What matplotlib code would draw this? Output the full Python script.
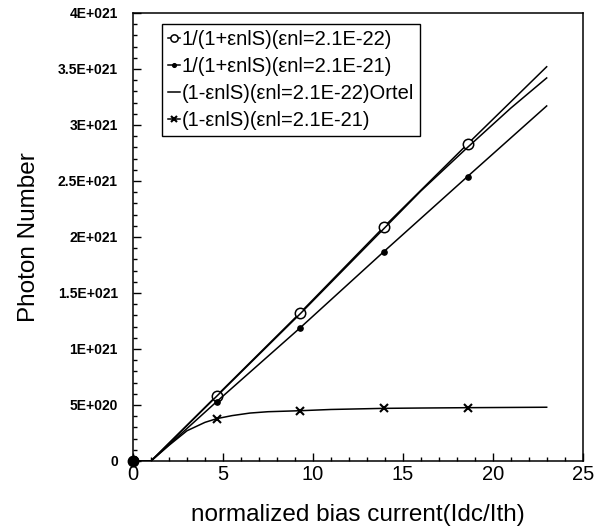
import matplotlib
matplotlib.use('Agg')
import matplotlib.pyplot as plt
from matplotlib.ticker import MultipleLocator, FixedLocator

plt.rcParams['font.family'] = ['Liberation Sans', 'DejaVu Sans']

# values (photon number in units of 1E+021)
x_lin = [0, 1, 4.65, 9.3, 13.95, 18.6, 23]
s1 = [0, 0, 0.583, 1.324, 2.09, 2.83, 3.52]      # 1/(1+eS), 2.1E-22
s2 = [0, 0, 0.53, 1.19, 1.87, 2.54, 3.17]         # 1/(1+eS), 2.1E-21
x_ortel = [0, 1, 4.65, 9.3, 13.95, 16, 18.6, 21, 23]
s3 = [0, 0, 0.578, 1.315, 2.075, 2.41, 2.80, 3.15, 3.42]  # Ortel
x_sat = [0, 1, 2, 3, 4, 4.65, 5.5, 6.5, 7.5, 9.3, 11, 13.95, 16, 18.6, 23]
s4 = [0, 0, 0.14, 0.27, 0.345, 0.378, 0.405, 0.428, 0.44, 0.449, 0.46,
      0.47, 0.473, 0.476, 0.48]                   # 1-eS, 2.1E-21
marker_x = [0, 4.65, 9.3, 13.95, 18.6]

labels = ['1/(1+εnlS)(εnl=2.1E-22)', '1/(1+εnlS)(εnl=2.1E-21)',
          '(1-εnlS)(εnl=2.1E-22)Ortel', '(1-εnlS)(εnl=2.1E-21)']
y_ticks = [0, 0.5, 1, 1.5, 2, 2.5, 3, 3.5, 4]
y_ticklabels = ['0', '5E+020', '1E+021', '1.5E+021', '2E+021', '2.5E+021',
                '3E+021', '3.5E+021', '4E+021']
x_ticks = [0, 5, 10, 15, 20, 25]

scale = 1e21


def marks(xs):
    return [i for i, v in enumerate(xs) if v in marker_x]


fig = plt.figure(figsize=(6.08, 5.28), dpi=100)
ax = fig.add_axes([0.2188, 0.1269, 0.7395, 0.8485])

lw = 1.1
ax.plot(x_lin, [v * scale for v in s1], color='black', lw=lw, marker='o',
        ms=7.5, mfc='white', mew=1.1, markevery=marks(x_lin), label=labels[0])
ax.plot(x_lin, [v * scale for v in s2], color='black', lw=lw, marker='o',
        ms=3.8, markevery=marks(x_lin), label=labels[1])
ax.plot(x_ortel, [v * scale for v in s3], color='black', lw=lw,
        label=labels[2])
ax.plot(x_sat, [v * scale for v in s4], color='black', lw=lw, marker='x',
        ms=6, mew=1.5, markevery=marks(x_sat), label=labels[3])
ax.plot([0], [0], 'o', color='black', ms=7.5, clip_on=False, zorder=5)

ax.set_xlim(0, 25)
ax.set_ylim(0, 4 * scale)
ax.xaxis.set_major_locator(FixedLocator(x_ticks))
ax.xaxis.set_minor_locator(MultipleLocator(1))
ax.yaxis.set_major_locator(FixedLocator([t * scale for t in y_ticks]))
ax.yaxis.set_minor_locator(MultipleLocator(0.1 * scale))
ax.set_yticklabels(y_ticklabels, fontsize=10, fontweight='bold')
ax.set_xticklabels([str(t) for t in x_ticks], fontsize=14.5)

ax.tick_params(which='both', direction='in', width=1.0)
ax.tick_params(which='major', length=6)
ax.tick_params(which='minor', length=3)
ax.tick_params(axis='y', pad=11)
ax.tick_params(axis='x', pad=3)
for sp in ax.spines.values():
    sp.set_linewidth(1.1)

ax.set_xlabel('normalized bias current(Idc/Ith)', fontsize=17.5, labelpad=14)
ax.set_ylabel('Photon Number', fontsize=17.5, labelpad=13)

leg = ax.legend(loc='upper left', bbox_to_anchor=(0.064, 0.975),
                borderaxespad=0, fontsize=14.5, handlelength=0.6,
                handletextpad=0.1, labelspacing=0.4, borderpad=0.3,
                markerscale=0.7, fancybox=False, framealpha=1)
leg.get_frame().set_edgecolor('black')
leg.get_frame().set_linewidth(1.0)

fig.savefig('out.png', dpi=100)
